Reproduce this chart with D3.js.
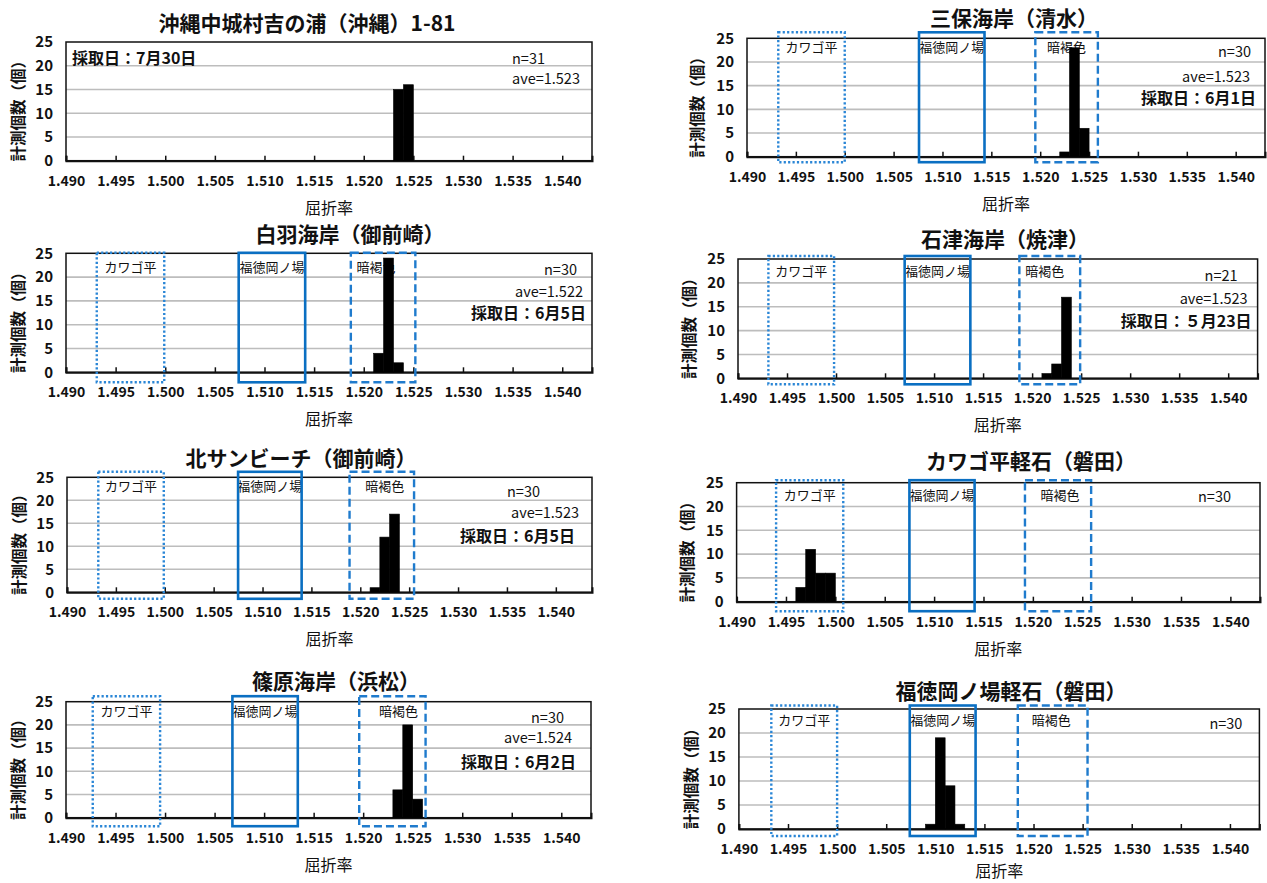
<!DOCTYPE html>
<html>
<head>
<meta charset="utf-8">
<script src="https://cdn.jsdelivr.net/npm/d3@7"></script>
<style>
  html, body { margin: 0; padding: 0; background: #fff; }
  svg { display: block; font-family: "Noto Sans CJK JP", "Noto Sans", sans-serif; }
</style>
</head>
<body>
<svg id="chart" width="1267" height="883"></svg>
<script>
// ---- data ----
const panelTitles = [
  "沖縄中城村吉の浦（沖縄）1-81",
  "白羽海岸（御前崎）",
  "北サンビーチ（御前崎）",
  "篠原海岸（浜松）",
  "三保海岸（清水）",
  "石津海岸（焼津）",
  "カワゴ平軽石（磐田）",
  "福徳岡ノ場軽石（磐田）"
];
// lower edge of each 0.001-wide refractive index bin, and its count
const binStarts = [
  [1.523, 1.524],
  [1.521, 1.522, 1.523],
  [1.521, 1.522, 1.523],
  [1.523, 1.524, 1.525],
  [1.522, 1.523, 1.524],
  [1.521, 1.522, 1.523],
  [1.496, 1.497, 1.498, 1.499],
  [1.509, 1.510, 1.511, 1.512]
];
const binCounts = [
  [15, 16],
  [4, 24, 2],
  [1, 12, 17],
  [6, 20, 4],
  [1, 23, 6],
  [1, 3, 17],
  [3, 11, 6, 6],
  [1, 19, 9, 1]
];
const sampleSizes = [31, 30, 30, 30, 30, 21, 30, 30];
const averages = ["1.523", "1.522", "1.523", "1.524", "1.523", "1.523", null, null];
const sampleDates = ["7月30日", "6月5日", "6月5日", "6月2日", "6月1日", "５月23日", null, null];
const xTickValues = [1.490, 1.495, 1.500, 1.505, 1.510, 1.515, 1.520, 1.525, 1.530, 1.535, 1.540];
const yTickValues = [0, 5, 10, 15, 20, 25];
const xMin = 1.490;
const yDomain = [0, 25];
const binWidth = 0.001;
const sourceNames = ["カワゴ平", "福徳岡ノ場", "暗褐色"];
// refractive index range of each reference pumice, as boxed on each panel
const sourceRanges = [
  null,
  [[1.4931, 1.4999], [1.5074, 1.5141], [1.5187, 1.5252]],
  [[1.4932, 1.4999], [1.5075, 1.5140], [1.5189, 1.5255]],
  [[1.4927, 1.4995], [1.5068, 1.5134], [1.5196, 1.5263]],
  [[1.4932, 1.5000], [1.5076, 1.5143], [1.5195, 1.5259]],
  [[1.4931, 1.4998], [1.5070, 1.5137], [1.5187, 1.5249]],
  [[1.4940, 1.5008], [1.5075, 1.5141], [1.5192, 1.5259]],
  [[1.4933, 1.5000], [1.5074, 1.5141], [1.5184, 1.5255]]
];

// ---- layout ----
const panelLayout = [
  { x0: 66,    x1: 592,    xMax: 1.543,  y0: 42,    y1: 160.7, titleX: 307,  titleY: 22,    yTitleX: 17,  boxTop: 0,    boxBottom: 0,   labelShift: 0 },
  { x0: 66,    x1: 592,    xMax: 1.543,  y0: 253.3, y1: 372.3, titleX: 350,  titleY: 233,   yTitleX: 17,  boxTop: -0.5, boxBottom: 10,  labelShift: -7 },
  { x0: 67,    x1: 592,    xMax: 1.5437, y0: 477.3, y1: 592.3, titleX: 301,  titleY: 456.7, yTitleX: 18,  boxTop: -5.5, boxBottom: 6.5, labelShift: 3 },
  { x0: 66,    x1: 591,    xMax: 1.543,  y0: 701.7, y1: 817.7, titleX: 336,  titleY: 680,   yTitleX: 17,  boxTop: -5.5, boxBottom: 8.5, labelShift: 6 },
  { x0: 747,   x1: 1265,   xMax: 1.543,  y0: 38.3,  y1: 156.7, titleX: 1014, titleY: 16.7,  yTitleX: 696, boxTop: -6,   boxBottom: 5.5, labelShift: 0 },
  { x0: 738,   x1: 1257.6, xMax: 1.543,  y0: 259,   y1: 378.3, titleX: 1005, titleY: 238.3, yTitleX: 688, boxTop: -3,   boxBottom: 6,   labelShift: -5 },
  { x0: 736.6, x1: 1260,   xMax: 1.543,  y0: 482.7, y1: 601.7, titleX: 1031, titleY: 460,   yTitleX: 686, boxTop: -2.5, boxBottom: 9.5, labelShift: 2 },
  { x0: 738.9, x1: 1259.4, xMax: 1.543,  y0: 709,   y1: 829,   titleX: 1011, titleY: 690,   yTitleX: 690, boxTop: -3.5, boxBottom: 7,   labelShift: -1.5 }
];
// where the n / ave / date notes sit: [dx from anchor edge, dy from plot top, anchor, edge]
const notePlacement = [
  { n: [-80, 15, "start"], ave: [-80, 35, "start"], date: [6, 15, "start", "left"] },
  { n: [-15, 15, "end"], ave: [-9, 37, "end"], date: [-6, 59, "end"] },
  { n: [-52, 13, "end"], ave: [-13, 34, "end"], date: [-17, 58, "end"] },
  { n: [-27, 15, "end"], ave: [-19, 35, "end"], date: [-15, 59, "end"] },
  { n: [-14, 12, "end"], ave: [-15, 37, "end"], date: [-9, 59, "end"] },
  { n: [-20, 15, "end"], ave: [-10, 38, "end"], date: [-6, 61, "end"] },
  { n: [-29, 13, "end"] },
  { n: [-17, 13, "end"] }
];
const boxStyles = [
  { stroke: "#2a86d6", width: 2.4, dash: "2.2,2.2" },
  { stroke: "#0a6fc2", width: 2.6, dash: null },
  { stroke: "#1f7bcd", width: 2.4, dash: "8,4" }
];

const svg = d3.select("#chart");

panelTitles.forEach((title, i) => {
  const L = panelLayout[i];
  const g = svg.append("g").attr("class", "panel");
  const x = d3.scaleLinear().domain([xMin, L.xMax]).range([L.x0, L.x1]);
  const y = d3.scaleLinear().domain(yDomain).range([L.y1, L.y0]);

  // title
  g.append("text")
    .attr("x", L.titleX).attr("y", L.titleY)
    .attr("text-anchor", "middle").attr("dominant-baseline", "central")
    .attr("font-size", 21).attr("font-weight", "bold").attr("fill", "#111")
    .text(title);

  // horizontal gridlines
  g.append("g").selectAll("line")
    .data(yTickValues.filter(v => v > 0 && v < 25))
    .join("line")
    .attr("x1", L.x0).attr("x2", L.x1)
    .attr("y1", d => y(d)).attr("y2", d => y(d))
    .attr("stroke", "#bdbdbd").attr("stroke-width", 1.6);

  // plot frame
  g.append("rect")
    .attr("x", L.x0).attr("y", L.y0)
    .attr("width", L.x1 - L.x0).attr("height", L.y1 - L.y0)
    .attr("fill", "none").attr("stroke", "#111").attr("stroke-width", 1.5);

  // x axis with inward ticks
  const xAxis = d3.axisBottom(x)
    .tickValues(xTickValues)
    .tickSize(-5)
    .tickPadding(15)
    .tickFormat(d3.format(".3f"));
  const xg = g.append("g").attr("transform", `translate(0,${L.y1})`).call(xAxis);
  xg.select(".domain").attr("stroke", "#111").attr("stroke-width", 2);
  xg.selectAll(".tick line").attr("stroke", "#111").attr("stroke-width", 1.5);
  xg.selectAll(".tick text")
    .attr("font-size", 14).attr("font-weight", "bold").attr("fill", "#111")
    .attr("font-family", "\"Noto Sans CJK JP\", sans-serif");

  // y axis
  const yAxis = d3.axisLeft(y).tickValues(yTickValues).tickSize(0).tickPadding(13);
  const yg = g.append("g").attr("transform", `translate(${L.x0},0)`).call(yAxis);
  yg.select(".domain").remove();
  yg.selectAll(".tick text")
    .attr("font-size", 15).attr("font-weight", "bold").attr("fill", "#111")
    .attr("font-family", "\"Noto Sans CJK JP\", sans-serif");

  // axis titles
  g.append("text")
    .attr("x", (L.x0 + L.x1) / 2).attr("y", Math.min(L.y1 + 46, 870))
    .attr("text-anchor", "middle").attr("dominant-baseline", "central")
    .attr("font-size", 16).attr("fill", "#111")
    .text("屈折率");
  g.append("text")
    .attr("transform", `translate(${L.yTitleX},${(L.y0 + L.y1) / 2 + 6}) rotate(-90)`)
    .attr("text-anchor", "middle").attr("dominant-baseline", "central")
    .attr("font-size", 15.5).attr("font-weight", "bold").attr("fill", "#111")
    .text("計測個数（個）");

  // reference source boxes and their names
  const ranges = sourceRanges[i];
  if (ranges) {
    const top = L.y0 + L.boxTop;
    const bottom = L.y1 + L.boxBottom;
    ranges.forEach((r, k) => {
      const cx = (x(r[0]) + x(r[1])) / 2 + (k === 2 ? L.labelShift : 0);
      g.append("text")
        .attr("x", cx).attr("y", top + 14)
        .attr("text-anchor", "middle").attr("dominant-baseline", "central")
        .attr("font-size", 13).attr("fill", "#111")
        .text(sourceNames[k]);
    });
    ranges.forEach((r, k) => {
      const s = boxStyles[k];
      g.append("rect")
        .attr("x", x(r[0])).attr("y", top)
        .attr("width", x(r[1]) - x(r[0])).attr("height", bottom - top)
        .attr("fill", "none").attr("stroke", s.stroke)
        .attr("stroke-width", s.width)
        .attr("stroke-dasharray", s.dash);
    });
  }

  // histogram bars
  const bins = binStarts[i].map((b, k) => ({ b, c: binCounts[i][k] }));
  g.append("g").selectAll("rect")
    .data(bins)
    .join("rect")
    .attr("x", d => x(d.b))
    .attr("width", d => x(d.b + binWidth) - x(d.b))
    .attr("y", d => y(d.c))
    .attr("height", d => y(0) - y(d.c))
    .attr("fill", "#000").attr("stroke", "#000").attr("stroke-width", 0.6);

  // notes
  const P = notePlacement[i];
  const notes = [];
  notes.push({ text: "n=" + sampleSizes[i], p: P.n, bold: false, size: 14.5 });
  if (averages[i]) notes.push({ text: "ave=" + averages[i], p: P.ave, bold: false, size: 14.5 });
  if (sampleDates[i]) notes.push({ text: "採取日：" + sampleDates[i], p: P.date, bold: true, size: 16 });
  notes.forEach(nt => {
    const fromLeft = nt.p[3] === "left";
    g.append("text")
      .attr("x", (fromLeft ? L.x0 : L.x1) + nt.p[0])
      .attr("y", L.y0 + nt.p[1])
      .attr("text-anchor", nt.p[2]).attr("dominant-baseline", "central")
      .attr("font-size", nt.size).attr("font-weight", nt.bold ? "bold" : "normal")
      .attr("fill", "#111")
      .text(nt.text);
  });
});
</script>
</body>
</html>
